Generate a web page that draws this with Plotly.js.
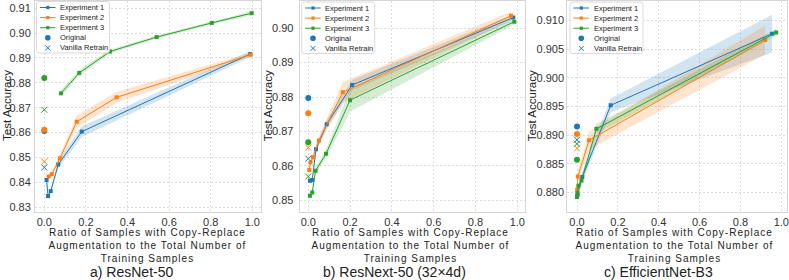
<!DOCTYPE html>
<html><head><meta charset="utf-8">
<script src="https://cdn.plot.ly/plotly-3.0.1.min.js"></script>
<style>html,body{margin:0;padding:0;background:#fff}</style>
</head><body><div id="chart" style="width:789px;height:280px"></div>
<script>
// ---------- data ----------
const seriesNames = ['Experiment 1', 'Experiment 2', 'Experiment 3'];
const markerNames = ['Original', 'Vanilla Retrain'];
const panelTitles = ['a) ResNet-50', 'b) ResNext-50 (32\u00d74d)', 'c) EfficientNet-B3'];
const xTitleLines = ['Ratio of Samples with Copy-Replace', 'Augmentation to the Total Number of', 'Training Samples'];
const yTitle = 'Test Accuracy';
const xTicks = [0, 0.2, 0.4, 0.6, 0.8, 1.0];
const aYTicks = [0.83, 0.84, 0.85, 0.86, 0.87, 0.88, 0.89, 0.90, 0.91];
const bYTicks = [0.85, 0.86, 0.87, 0.88, 0.89, 0.90];
const cYTicks = [0.880, 0.885, 0.890, 0.895, 0.900, 0.905, 0.910];

// a) ResNet-50
const a_e1_x = [0.011, 0.018, 0.031, 0.067, 0.18, 0.99];
const a_e1_y = [0.8410, 0.8345, 0.8365, 0.8472, 0.8604, 0.8916];
const a_e1_sd = [0.0008, 0.0008, 0.0008, 0.0015, 0.0022, 0.0012];
const a_e2_x = [0.021, 0.036, 0.075, 0.156, 0.348, 0.992];
const a_e2_y = [0.8424, 0.8433, 0.8497, 0.8644, 0.8742, 0.8913];
const a_e2_sd = [0.0008, 0.0010, 0.0015, 0.0025, 0.0022, 0.0008];
const a_e3_x = [0.08, 0.168, 0.316, 0.54, 0.805, 0.997];
const a_e3_y = [0.8758, 0.8840, 0.8926, 0.8984, 0.9041, 0.9080];
const a_e3_sd = [0.0012, 0.0012, 0.0008, 0.0006, 0.0006, 0.0008];
const a_original = [0.8607, 0.8612, 0.8820];
const a_vanilla = [0.8460, 0.8484, 0.8692];

// b) ResNext-50
const b_e1_x = [0.008, 0.019, 0.037, 0.088, 0.21, 0.981];
const b_e1_y = [0.8557, 0.8559, 0.8648, 0.8721, 0.8835, 0.9031];
const b_e1_sd = [0.0008, 0.0008, 0.0010, 0.0012, 0.0015, 0.0008];
const b_e2_x = [0.005, 0.011, 0.022, 0.051, 0.165, 0.97];
const b_e2_y = [0.8588, 0.8610, 0.8625, 0.8674, 0.8814, 0.9036];
const b_e2_sd = [0.0008, 0.0008, 0.0010, 0.0012, 0.0030, 0.0012];
const b_e3_x = [0.008, 0.019, 0.035, 0.085, 0.2, 0.986];
const b_e3_y = [0.8513, 0.8523, 0.8586, 0.8635, 0.8791, 0.9019];
const b_e3_sd = [0.0010, 0.0010, 0.0010, 0.0012, 0.0033, 0.0008];
const b_original = [0.8797, 0.8753, 0.8669];
const b_vanilla = [0.8621, 0.8653, 0.8569];

// c) EfficientNet-B3
const c_e1_x = [0.003, 0.026, 0.165, 0.955];
const c_e1_y = [0.8796, 0.8827, 0.8952, 0.9077];
const c_e1_sd = [0.0006, 0.0008, 0.0012, 0.0033];
const c_e2_x = [0.001, 0.004, 0.059, 0.921];
const c_e2_y = [0.8805, 0.8828, 0.8891, 0.9066];
const c_e2_sd = [0.0006, 0.0008, 0.0016, 0.0025];
const c_e3_x = [0.0, 0.002, 0.007, 0.022, 0.095, 0.975];
const c_e3_y = [0.8792, 0.8799, 0.8812, 0.8821, 0.8911, 0.9079];
const c_e3_sd = [0.0005, 0.0005, 0.0006, 0.0008, 0.0009, 0.0006];
const c_original = [0.8915, 0.8902, 0.8857];
const c_vanilla = [0.8892, 0.8877, 0.8885];

// ---------- styling / layout ----------
const W = 789, H = 280;
const PX = x => x / W, PY = y => 1 - y / H;
const colors = ['#1f77b4', '#ff7f0e', '#2ca02c'];
const bands = ['rgba(31,119,180,0.2)', 'rgba(255,127,14,0.2)', 'rgba(44,160,44,0.2)'];
const FONT = 'Liberation Sans, Arial, Helvetica, sans-serif';

const panels = [
  {exps: [[a_e1_x, a_e1_y, a_e1_sd], [a_e2_x, a_e2_y, a_e2_sd], [a_e3_x, a_e3_y, a_e3_sd]],
   orig: a_original, van: a_vanilla, yt: aYTicks, fmt: '.2f',
   dom: [35, 261], xr: [-0.0447, 1.0418], yr: [0.8281, 0.9129],
   subX: 131, xtX: 147.5, ytX: 7, legL: 36.5, legT: 1.5, tls: 1},
  {exps: [[b_e1_x, b_e1_y, b_e1_sd], [b_e2_x, b_e2_y, b_e2_sd], [b_e3_x, b_e3_y, b_e3_sd]],
   orig: b_original, van: b_vanilla, yt: bYTicks, fmt: '.2f',
   dom: [299.7, 525], xr: [-0.041, 1.037], yr: [0.8466, 0.9079],
   subX: 394.3, xtX: 410.5, ytX: 268.3, legL: 301.7, legT: 2, tls: 3},
  {exps: [[c_e1_x, c_e1_y, c_e1_sd], [c_e2_x, c_e2_y, c_e2_sd], [c_e3_x, c_e3_y, c_e3_sd]],
   orig: c_original, van: c_vanilla, yt: cYTicks, fmt: '.3f',
   dom: [567.3, 786.7], xr: [-0.0475, 1.0265], yr: [0.8766, 0.9134],
   subX: 658.5, xtX: 674.2, ytX: 532.3, legL: 570, legT: 2, tls: 1.5}
];

const traces = [];
const layout = {
  width: W, height: H, margin: {l: 0, r: 0, t: 0, b: 0},
  paper_bgcolor: '#ffffff', plot_bgcolor: '#ffffff',
  font: {family: FONT, size: 11, color: '#333333'},
  showlegend: false, annotations: [], shapes: []
};

const plotTop = 1, plotBot = 212;
panels.forEach((p, i) => {
  const sfx = i === 0 ? '' : String(i + 1);
  const xa = 'x' + sfx, ya = 'y' + sfx;
  // confidence bands
  p.exps.forEach((e, k) => {
    const [xs, ys, sd] = e;
    traces.push({x: xs, y: ys.map((v, j) => v - sd[j]), xaxis: xa, yaxis: ya, mode: 'lines',
      line: {width: 0, color: colors[k]}, hoverinfo: 'skip', showlegend: false});
    traces.push({x: xs, y: ys.map((v, j) => v + sd[j]), xaxis: xa, yaxis: ya, mode: 'lines',
      line: {width: 0, color: colors[k]}, fill: 'tonexty', fillcolor: bands[k], hoverinfo: 'skip', showlegend: false});
  });
  // mean lines
  p.exps.forEach((e, k) => {
    traces.push({x: e[0], y: e[1], xaxis: xa, yaxis: ya, mode: 'lines+markers', name: seriesNames[k],
      line: {width: 1, color: colors[k]}, marker: {symbol: 'square', size: 4, color: colors[k]}});
  });
  // originals & vanilla retrain at ratio 0
  traces.push({x: p.orig.map(() => 0), y: p.orig, xaxis: xa, yaxis: ya, mode: 'markers', name: markerNames[0],
    marker: {symbol: 'circle', size: 6, color: colors}});
  traces.push({x: p.van.map(() => 0), y: p.van, xaxis: xa, yaxis: ya, mode: 'markers', name: markerNames[1],
    marker: {symbol: 'x-thin', size: 6, color: colors, line: {width: 1, color: colors}}});

  const common = {showline: true, linecolor: '#d6d6d6', linewidth: 1, mirror: true, zeroline: false,
    showgrid: true, gridcolor: '#dcdcdc', griddash: '2px,2px', gridwidth: 1, ticks: '',
    tickfont: {size: 11, color: '#333333', family: FONT}};
  layout['xaxis' + sfx] = Object.assign({}, common, {
    domain: [PX(p.dom[0]), PX(p.dom[1])], range: p.xr, tickvals: xTicks, tickformat: '.1f',
    anchor: ya, ticklabelstandoff: 0});
  layout['yaxis' + sfx] = Object.assign({}, common, {
    domain: [PY(plotBot), PY(plotTop)], range: p.yr, tickvals: p.yt, tickformat: p.fmt,
    anchor: xa, ticklabelstandoff: p.tls});

  // y-axis title
  layout.annotations.push({text: yTitle, xref: 'paper', yref: 'paper', x: PX(p.ytX), y: PY(106),
    xanchor: 'center', yanchor: 'middle', textangle: -90, showarrow: false, borderpad: 0,
    font: {size: 11.5, color: '#222222', family: FONT}});
  // x-axis title (three lines) + panel caption
  layout.annotations.push({text: xTitleLines.join('<br>'), xref: 'paper', yref: 'paper',
    x: PX(p.xtX), y: PY(245), xanchor: 'center', yanchor: 'middle', showarrow: false, borderpad: 0,
    font: {size: 10, color: '#222222', family: FONT}});
  layout.annotations.push({text: panelTitles[i], xref: 'paper', yref: 'paper', x: PX(p.subX), y: PY(272),
    xanchor: 'center', yanchor: 'middle', showarrow: false, borderpad: 0,
    font: {size: 14, color: '#222222', family: FONT}});

  // legend (drawn as layout decorations)
  const L = p.legL, T = p.legT, Wd = 73, Ht = 51.5, r = 2.5;
  const R = L + Wd, B = T + Ht;
  const path = `M ${PX(L + r)},${PY(T)} L ${PX(R - r)},${PY(T)} Q ${PX(R)},${PY(T)} ${PX(R)},${PY(T + r)} ` +
    `L ${PX(R)},${PY(B - r)} Q ${PX(R)},${PY(B)} ${PX(R - r)},${PY(B)} L ${PX(L + r)},${PY(B)} ` +
    `Q ${PX(L)},${PY(B)} ${PX(L)},${PY(B - r)} L ${PX(L)},${PY(T + r)} Q ${PX(L)},${PY(T)} ${PX(L + r)},${PY(T)} Z`;
  layout.shapes.push({type: 'path', path: path, xref: 'paper', yref: 'paper',
    fillcolor: 'rgba(255,255,255,0.85)', line: {color: '#d0d0d0', width: 0.8}, layer: 'above'});
  const labels = seriesNames.concat(markerNames);
  labels.forEach((lab, j) => {
    const cy = T + 6 + j * 10.1;
    const cx = L + 11.3;
    if (j < 3) {
      layout.shapes.push({type: 'line', xref: 'paper', yref: 'paper', x0: PX(L + 3.5), x1: PX(L + 19),
        y0: PY(cy), y1: PY(cy), line: {color: colors[j], width: 1}, layer: 'above'});
      layout.shapes.push({type: 'rect', xref: 'paper', yref: 'paper', x0: PX(cx - 1.6), x1: PX(cx + 1.6),
        y0: PY(cy - 1.6), y1: PY(cy + 1.6), fillcolor: colors[j], line: {width: 0}, layer: 'above'});
    } else if (j === 3) {
      layout.shapes.push({type: 'circle', xref: 'paper', yref: 'paper', x0: PX(cx - 2.8), x1: PX(cx + 2.8),
        y0: PY(cy - 2.8), y1: PY(cy + 2.8), fillcolor: colors[0], line: {width: 0}, layer: 'above'});
    } else {
      layout.shapes.push({type: 'line', xref: 'paper', yref: 'paper', x0: PX(cx - 2.5), x1: PX(cx + 2.5),
        y0: PY(cy - 2.5), y1: PY(cy + 2.5), line: {color: colors[0], width: 1}, layer: 'above'});
      layout.shapes.push({type: 'line', xref: 'paper', yref: 'paper', x0: PX(cx - 2.5), x1: PX(cx + 2.5),
        y0: PY(cy + 2.5), y1: PY(cy - 2.5), line: {color: colors[0], width: 1}, layer: 'above'});
    }
    layout.annotations.push({text: lab, xref: 'paper', yref: 'paper', x: PX(L + 22.5), y: PY(cy),
      xanchor: 'left', yanchor: 'middle', showarrow: false, borderpad: 0,
      font: {size: 7.5, color: '#222222', family: FONT}});
  });
});

Plotly.newPlot('chart', traces, layout, {displayModeBar: false, staticPlot: true}).then(() => {
  // the reference's axis-title text is set with slightly wide letter spacing
  document.querySelectorAll('#chart .annotation-text').forEach(el => {
    if (el.textContent.indexOf(xTitleLines[0]) === 0) el.style.letterSpacing = '1px';
  });
});
</script>
</body></html>
